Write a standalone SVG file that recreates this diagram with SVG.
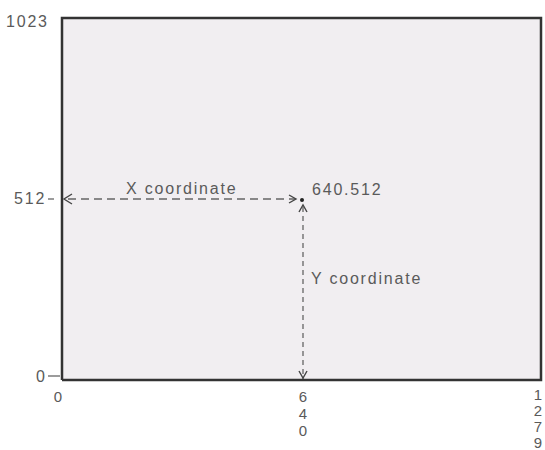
<svg xmlns="http://www.w3.org/2000/svg" width="545" height="450" viewBox="0 0 545 450">
<defs>
<style>
text{font-family:"Liberation Sans",Arial,sans-serif;font-size:16px;letter-spacing:1.8px;fill:#5a5a5a}
text.d{font-size:15px;letter-spacing:0;text-anchor:middle}
.ax{stroke:#333;stroke-width:2.5;fill:none}
.dash{stroke:#666;stroke-width:1.3;stroke-dasharray:8,5;fill:none}
.vdash{stroke:#666;stroke-width:1.3;stroke-dasharray:5,4;fill:none}
.head{stroke:#444;stroke-width:1.4;fill:none}
</style>
</defs>
<rect x="0" y="0" width="545" height="450" fill="#ffffff"/>
<g id="screen">
<rect x="62" y="18" width="479" height="362" fill="#f1eef1" stroke="none"/>
<path class="ax" d="M62,380 V18 H541 V380 H62"/>
</g>
<g id="labels">
<text x="6" y="27">1023</text>
<text x="14" y="204">512</text>
<line x1="48" y1="199" x2="54" y2="199" stroke="#666" stroke-width="1.3"/>
<text x="36" y="382">0</text>
<line x1="48" y1="376" x2="60" y2="376" stroke="#666" stroke-width="1.3"/>
<text class="d" x="58" y="402">0</text>
<text class="d" x="303" y="402">6</text>
<text class="d" x="303" y="419">4</text>
<text class="d" x="303" y="436">0</text>
<text class="d" x="538" y="400">1</text>
<text class="d" x="538" y="416">2</text>
<text class="d" x="538" y="432">7</text>
<text class="d" x="538" y="448">9</text>
<text x="126" y="194">X coordinate</text>
<text x="312" y="195">640.512</text>
<text x="311" y="284">Y coordinate</text>
</g>
<g id="point">
<circle cx="302" cy="200" r="2" fill="#222"/>
</g>
<g id="connectors">
<line class="dash" x1="68" y1="199" x2="295" y2="199"/>
<path class="head" d="M72,194 L64,199 L72,204"/>
<path class="head" d="M289,195 L296,199 L289,203"/>
<line class="vdash" x1="303" y1="207" x2="303" y2="379"/>
<path class="head" d="M299,212 L303,205 L307,212"/>
<path class="head" d="M299,371 L303,378 L307,371"/>
</g>
</svg>
